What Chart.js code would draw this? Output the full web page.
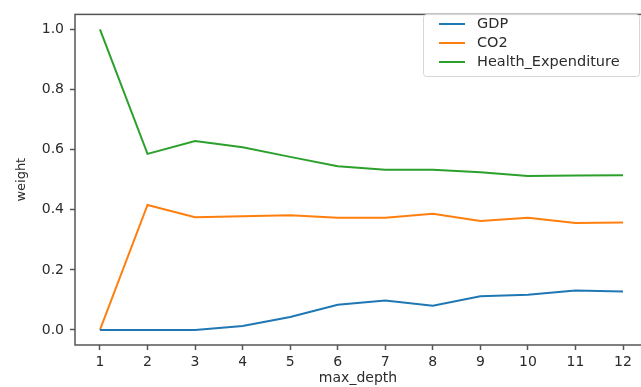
<!DOCTYPE html>
<html>
<head>
<meta charset="utf-8">
<script src="https://cdn.jsdelivr.net/npm/chart.js@4"></script>
<style>
  html, body { margin: 0; padding: 0; background: #fff; overflow: hidden; }
  #wrap { width: 641px; height: 387px; }
</style>
</head>
<body>
<div id="wrap"><canvas id="weightChart" width="641" height="387"></canvas></div>
<script>
const depths = [1, 2, 3, 4, 5, 6, 7, 8, 9, 10, 11, 12];
const gdp = [0, 0, 0, 0.013, 0.043, 0.084, 0.098, 0.081, 0.112, 0.117, 0.131, 0.128];
const co2 = [0, 0.416, 0.375, 0.378, 0.382, 0.373, 0.373, 0.387, 0.363, 0.373, 0.356, 0.358];
const health = [1.0, 0.586, 0.629, 0.608, 0.576, 0.545, 0.533, 0.533, 0.525, 0.512, 0.514, 0.515];
const yTicks = [0, 0.2, 0.4, 0.6, 0.8, 1.0];

const FONT = 'DejaVu Sans';
const AXIS = '#555';
const TEXT = '#2b2b2b';

const toPoints = vals => depths.map((d, i) => ({ x: d, y: vals[i] }));

// matplotlib style box around the plot + legend in the upper right
const framePlugin = {
  id: 'frame',
  afterDatasetsDraw(chart) {
    const { ctx, chartArea: a } = chart;
    ctx.save();
    ctx.strokeStyle = AXIS;
    ctx.lineWidth = 1.5;
    ctx.strokeRect(a.left, a.top, a.right - a.left + 10, a.bottom - a.top);

    // legend
    const bx = 423, by = 14, bw = 216, bh = 62;
    ctx.fillStyle = 'rgba(255,255,255,0.85)';
    ctx.strokeStyle = '#d6d6d6';
    ctx.lineWidth = 1;
    ctx.beginPath();
    ctx.roundRect(bx + 0.5, by + 0.5, bw, bh, 3);
    ctx.fill();
    ctx.stroke();
    ctx.font = '14.5px "' + FONT + '"';
    ctx.textBaseline = 'middle';
    chart.data.datasets.forEach((ds, i) => {
      const y = by + 10 + i * 19;
      ctx.strokeStyle = ds.borderColor;
      ctx.lineWidth = 2;
      ctx.beginPath();
      ctx.moveTo(439, y);
      ctx.lineTo(465, y);
      ctx.stroke();
      ctx.fillStyle = TEXT;
      ctx.fillText(ds.label, 477, y);
    });
    ctx.restore();
  }
};

new Chart(document.getElementById('weightChart').getContext('2d'), {
  type: 'line',
  data: {
    datasets: [
      { label: 'GDP', data: toPoints(gdp), borderColor: '#1f77b4' },
      { label: 'CO2', data: toPoints(co2), borderColor: '#ff7f0e' },
      { label: 'Health_Expenditure', data: toPoints(health), borderColor: '#2ca02c' }
    ]
  },
  options: {
    responsive: false,
    animation: false,
    layout: { padding: { top: 8, left: 0, right: 0, bottom: 0 } },
    elements: {
      line: { borderWidth: 2, tension: 0, fill: false },
      point: { radius: 0, hoverRadius: 0 }
    },
    plugins: {
      legend: { display: false },
      tooltip: { enabled: false }
    },
    scales: {
      x: {
        type: 'linear',
        min: 0.475,
        max: 12.378,
        afterBuildTicks: axis => { axis.ticks = depths.map(v => ({ value: v })); },
        afterFit: axis => { axis.height = 42; },
        border: { display: false },
        grid: { drawOnChartArea: false, drawTicks: true, tickLength: 5, tickColor: AXIS, tickWidth: 1.5 },
        ticks: {
          padding: 4,
          color: TEXT,
          font: { family: FONT, size: 14 },
          maxRotation: 0,
          autoSkip: false,
          callback: v => String(v)
        },
        title: {
          display: true,
          text: 'max_depth',
          color: TEXT,
          font: { family: FONT, size: 14 },
          padding: { top: 1, bottom: 0 }
        }
      },
      y: {
        min: -0.05,
        max: 1.05,
        afterBuildTicks: axis => { axis.ticks = yTicks.map(v => ({ value: v })); },
        afterFit: axis => { axis.width = 75; },
        border: { display: false },
        grid: { drawOnChartArea: false, drawTicks: true, tickLength: 5, tickColor: AXIS, tickWidth: 1.5 },
        ticks: {
          padding: 6,
          color: TEXT,
          font: { family: FONT, size: 14 },
          callback: v => v.toFixed(1)
        },
        title: {
          display: true,
          text: 'weight',
          color: TEXT,
          font: { family: FONT, size: 13 },
          padding: { top: 14, bottom: 0 }
        }
      }
    }
  },
  plugins: [framePlugin]
});
</script>
</body>
</html>
